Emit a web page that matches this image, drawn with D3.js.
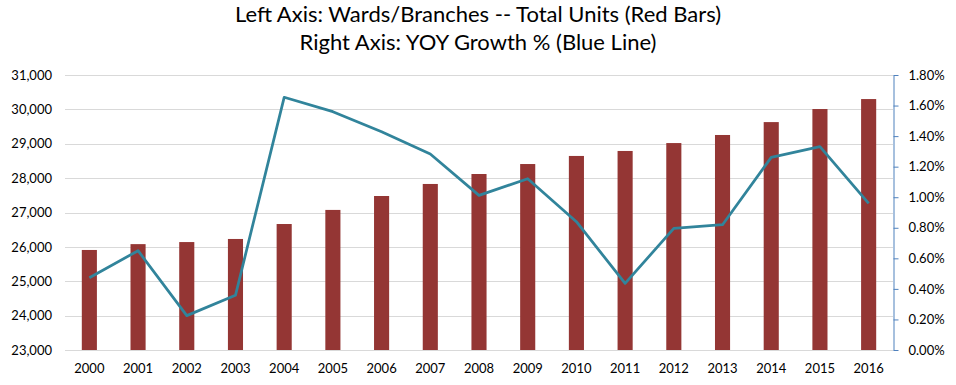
<!DOCTYPE html>
<html>
<head>
<meta charset="utf-8">
<script src="https://cdn.jsdelivr.net/npm/d3@7"></script>
<style>
  body { margin: 0; background: #fff; }
  svg { font-family: Lato, 'Open Sans', sans-serif; }
</style>
</head>
<body>
<div id="chart"></div>
<script>
const years = ['2000', '2001', '2002', '2003', '2004', '2005', '2006', '2007', '2008',
  '2009', '2010', '2011', '2012', '2013', '2014', '2015', '2016'];
const totalUnits = [25910, 26080, 26140, 26230, 26665, 27075, 27480, 27830, 28120,
  28410, 28645, 28790, 29020, 29255, 29630, 30010, 30300];
const yoyGrowth = [0.473, 0.650, 0.225, 0.358, 1.654, 1.560, 1.429, 1.283, 1.012,
  1.121, 0.840, 0.436, 0.796, 0.820, 1.261, 1.331, 0.960];
const titleLines = ['Left Axis: Wards/Branches -- Total Units (Red Bars)',
  'Right Axis: YOY Growth % (Blue Line)'];

const width = 956;
const height = 385;
const margin = { top: 75, right: 63, bottom: 35, left: 65 };

const svg = d3
  .select('#chart')
  .append('svg')
  .attr('width', width)
  .attr('height', height);

const x = d3
  .scaleBand()
  .domain(years)
  .range([margin.left, width - margin.right])
  .paddingInner(0.69)
  .paddingOuter(0.345);

const y = d3
  .scaleLinear()
  .domain([23000, 31000])
  .range([height - margin.bottom, margin.top]);

const y2 = d3
  .scaleLinear()
  .domain([0, 1.8])
  .range([height - margin.bottom, margin.top]);

// title
svg
  .selectAll('.title')
  .data(titleLines)
  .enter()
  .append('text')
  .attr('x', width / 2)
  .attr('y', (d, i) => 22 + i * 28)
  .attr('text-anchor', 'middle')
  .style('font-size', '22px')
  .attr('fill', '#000')
  .text((d) => d);

// gridlines
svg
  .append('g')
  .selectAll('line')
  .data(y.ticks(8))
  .enter()
  .append('line')
  .attr('x1', margin.left)
  .attr('x2', width - margin.right)
  .attr('y1', (d) => Math.round(y(d)) + 0.5)
  .attr('y2', (d) => Math.round(y(d)) + 0.5)
  .attr('stroke', '#d9d9d9')
  .attr('stroke-width', 1);

// left axis labels
const yAxis = (g) =>
  g
    .attr('transform', `translate(${margin.left},0)`)
    .call(d3.axisLeft(y).ticks(8).tickFormat(d3.format(',')).tickSize(0).tickPadding(13))
    .call((g) => g.select('.domain').remove())
    .call((g) => g.selectAll('text').style('font-size', '13px').attr('fill', '#000').style('font-family', 'Lato'));
svg.append('g').call(yAxis);

// right axis
const y2Axis = (g) =>
  g
    .attr('transform', `translate(${width - margin.right + 0.5},0)`)
    .call(d3.axisRight(y2).tickValues(d3.range(0, 1.81, 0.2)).tickFormat((d) => d.toFixed(2) + '%').tickSize(5).tickPadding(10).tickSizeOuter(0))
    .call((g) => g.select('.domain').attr('stroke', '#4f81bd'))
    .call((g) => g.selectAll('.tick line').attr('stroke', '#4f81bd'))
    .call((g) => g.selectAll('text').style('font-size', '13px').attr('fill', '#000').style('font-family', 'Lato'));
svg.append('g').call(y2Axis);

// bars
svg
  .selectAll('.bar')
  .data(totalUnits)
  .enter()
  .append('rect')
  .attr('class', 'bar')
  .attr('x', (d, i) => x(years[i]))
  .attr('y', (d) => y(d))
  .attr('width', x.bandwidth())
  .attr('height', (d) => y(23000) - y(d))
  .style('fill', '#943634');

// x axis labels
const xAxis = (g) =>
  g
    .attr('transform', `translate(0,${height - margin.bottom})`)
    .call(d3.axisBottom(x).tickSize(0).tickPadding(14))
    .call((g) => g.select('.domain').remove())
    .call((g) => g.selectAll('text').style('font-size', '13px').attr('fill', '#000').style('font-family', 'Lato'));
svg.append('g').call(xAxis);

// growth line
const line = d3
  .line()
  .x((d, i) => x(years[i]) + x.bandwidth() / 2)
  .y((d) => y2(d));

svg
  .append('path')
  .datum(yoyGrowth)
  .attr('d', line)
  .attr('fill', 'none')
  .attr('stroke', '#31849b')
  .attr('stroke-width', 2.75)
  .attr('stroke-linejoin', 'round');
</script>
</body>
</html>
